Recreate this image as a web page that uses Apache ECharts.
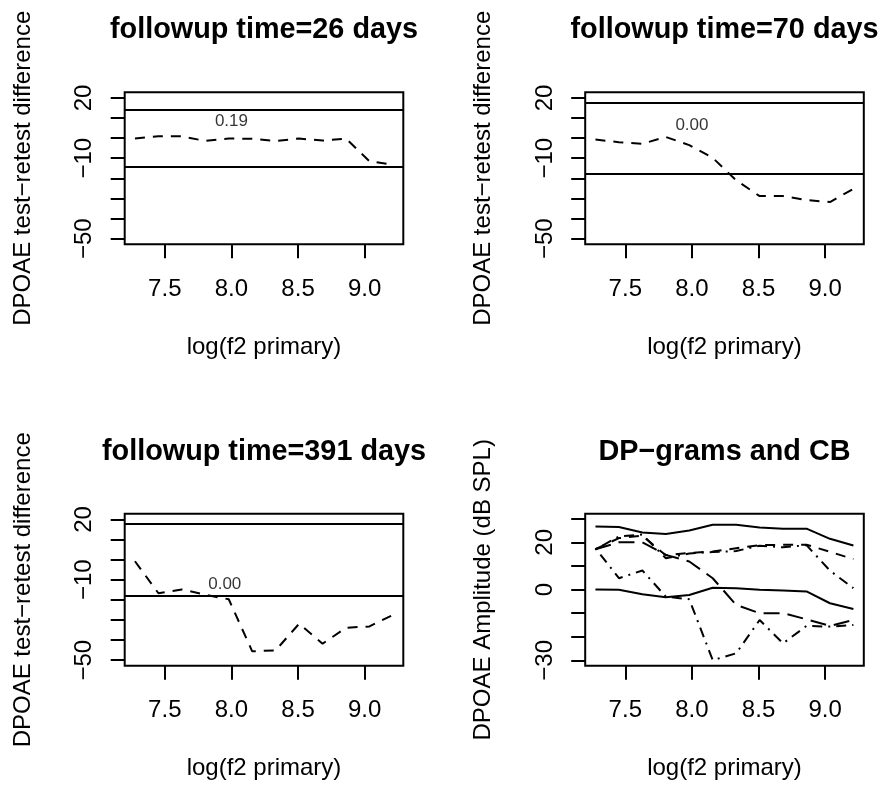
<!DOCTYPE html>
<html><head><meta charset="utf-8">
<script src="https://cdn.jsdelivr.net/npm/echarts@6/dist/echarts.min.js"></script>
<style>html,body{margin:0;padding:0;background:#fff}#c{width:884px;height:785px}</style>
</head><body><div id="c"></div>
<script>
// ---- data ----
const freqLog = [7.276, 7.452, 7.628, 7.804, 7.980, 8.156, 8.332, 8.508, 8.684, 8.860, 9.036, 9.212];
const diff26  = [-0.2, 0.9, 0.9, -1.4, -0.2, -0.3, -1.4, -0.2, -1.2, -0.2, -11.5, -13.2];
const diff70  = [-0.7, -2.0, -2.8, 0.6, -3.5, -9.8, -21.0, -28.8, -28.8, -30.8, -31.8, -25.2];
const diff391 = [-0.8, -16.7, -14.8, -17.5, -19.7, -45.6, -45.1, -31.9, -41.8, -33.9, -33.2, -27.5];
const limits26  = [14.1, -14.2];
const limits70  = [17.7, -17.8];
const limits391 = [17.9, -17.9];
const noteTexts = ['0.19', '0.00', '0.00'];
const noteX = [8.0, 8.0, 7.95];
const noteY = [8.6, 6.5, -12.2];
const cbUpper    = [26.7, 26.5, 24.2, 23.5, 25.0, 27.5, 27.5, 26.3, 25.8, 25.8, 21.5, 18.7];
const cbLower    = [0.0, -0.1, -2.0, -3.3, -2.3, 0.8, 0.6, -0.1, -0.4, -0.8, -5.8, -8.2];
const dpBaseline = [17.1, 21.8, 22.8, 14.5, 15.5, 16.1, 17.5, 18.8, 19.0, 19.0, 16.0, 12.9];
const dp26       = [17.0, 22.5, 23.3, 13.3, 15.3, 15.9, 16.3, 18.6, 17.9, 18.8, 8.0, 0.6];
const dp70       = [17.1, 20.0, 20.0, 14.7, 11.9, 4.8, -6.5, -10.0, -10.0, -12.6, -15.4, -12.9];
const dp391      = [17.5, 4.8, 8.1, -3.0, -4.1, -29.9, -27.0, -12.9, -22.8, -15.4, -15.7, -15.0];
const panelTitles = ['followup time=26 days', 'followup time=70 days', 'followup time=391 days', 'DP\u2212grams and CB'];
const xAxisTitle = 'log(f2 primary)';
const yTitles = ['DPOAE test\u2212retest difference', 'DPOAE test\u2212retest difference', 'DPOAE test\u2212retest difference', 'DPOAE Amplitude (dB SPL)'];
const xTicks = [7.5, 8.0, 8.5, 9.0];
const diffTickShown = [20, -10, -50];
const ampTickShown = [20, 0, -30];

// ---- layout ----
const FONT = 'Liberation Sans, Arial, Helvetica, sans-serif';
const xMin = 7.199, xMax = 9.290;
const panels = [
  {L:124.7, T:92.3, W:278.6, H:152, yMin:-52.8, yMax:22.8, tMin:-50, tMax:20, shown:diffTickShown},
  {L:585.2, T:92.3, W:278.6, H:152, yMin:-52.8, yMax:22.8, tMin:-50, tMax:20, shown:diffTickShown},
  {L:124.7, T:513.8, W:278.6, H:152, yMin:-52.8, yMax:22.8, tMin:-50, tMax:20, shown:diffTickShown},
  {L:585.2, T:513.8, W:278.6, H:152, yMin:-32.3, yMax:32.1, tMin:-30, tMax:30, shown:ampTickShown}
];
const fmtNum = v => String(v).replace('-', '\u2212');
const grid = [], xAxis = [], yAxis = [], series = [], graphic = [];
const tickStyle = {show:true, length:14, inside:false, lineStyle:{color:'#000', width:2}};
panels.forEach((p, i) => {
  const g0 = grid.length;
  grid.push({left:p.L, top:p.T, width:p.W, height:p.H, show:true, borderColor:'#000', borderWidth:2, backgroundColor:'transparent', containLabel:false});
  xAxis.push({gridIndex:g0, type:'value', min:xMin, max:xMax, show:false});
  yAxis.push({gridIndex:g0, type:'value', min:p.yMin, max:p.yMax, show:false});
  const yr = p.yMax - p.yMin;
  const ty = p.T + (p.yMax - p.tMax) / yr * p.H;
  const th = (p.tMax - p.tMin) / yr * p.H;
  grid.push({left:p.L, top:ty, width:p.W, height:th, show:false});
  xAxis.push({gridIndex:g0+1, type:'value', min:0, max:1, show:false});
  yAxis.push({gridIndex:g0+1, type:'value', min:p.tMin, max:p.tMax, interval:10,
    axisLine:{show:false}, splitLine:{show:false}, axisTick:tickStyle,
    axisLabel:{show:true, rotate:90, margin:28, fontSize:24, fontFamily:FONT, color:'#000',
      formatter: v => p.shown.indexOf(v) >= 0 ? fmtNum(v) : ''}});
  const xr = xMax - xMin;
  const tx = p.L + (xTicks[0] - xMin) / xr * p.W;
  const tw = (xTicks[xTicks.length-1] - xTicks[0]) / xr * p.W;
  grid.push({left:tx, top:p.T, width:tw, height:p.H, show:false});
  xAxis.push({gridIndex:g0+2, type:'value', min:xTicks[0], max:xTicks[xTicks.length-1], interval:0.5,
    axisLine:{show:false}, splitLine:{show:false}, axisTick:tickStyle,
    axisLabel:{show:true, margin:33, fontSize:24, fontFamily:FONT, color:'#000', formatter: v => v.toFixed(1)}});
  yAxis.push({gridIndex:g0+2, type:'value', min:0, max:1, show:false});

  const cx = p.L + p.W / 2;
  graphic.push({type:'text', x:cx, y:p.T - 61.8, style:{text:panelTitles[i], font:'bold 28.8px ' + FONT, fill:'#000', textAlign:'center', textVerticalAlign:'middle'}});
  graphic.push({type:'text', x:cx, y:p.T + 255, style:{text:xAxisTitle, font:'24px ' + FONT, fill:'#000', textAlign:'center', textVerticalAlign:'middle'}});
  graphic.push({type:'text', x:p.L - 101.5, y:p.T + p.H / 2, rotation:Math.PI / 2, style:{text:yTitles[i], font:'24px ' + FONT, fill:'#000', textAlign:'center', textVerticalAlign:'middle'}});
});

const pair = arr => freqLog.map((x, k) => [x, arr[k]]);
const dashed = [10, 8];
const diffSets = [[diff26, limits26], [diff70, limits70], [diff391, limits391]];
diffSets.forEach(([d, lim], i) => {
  const gi = i * 3;
  series.push({type:'line', xAxisIndex:gi, yAxisIndex:gi, data:pair(d), symbol:'none', silent:true,
    lineStyle:{color:'#000', width:2, type:dashed},
    markLine:{silent:true, symbol:['none','none'], label:{show:false},
      lineStyle:{color:'#000', width:2, type:'solid'},
      data:[{yAxis:lim[0]}, {yAxis:lim[1]}]}});
  series.push({type:'scatter', xAxisIndex:gi, yAxisIndex:gi, data:[[noteX[i], noteY[i]]], symbolSize:1,
    itemStyle:{color:'rgba(0,0,0,0)'}, silent:true,
    label:{show:true, position:'inside', formatter:noteTexts[i], fontSize:17, fontFamily:FONT, color:'#000', textBorderWidth:0}});
});
const g4 = 9;
const amp = [
  [cbUpper, 'solid'], [cbLower, 'solid'],
  [dpBaseline, [10, 8]], [dp26, [2, 6, 10, 6]], [dp70, [16, 8]], [dp391, [2, 6, 10, 6]]
];
amp.forEach(([d, t]) => {
  series.push({type:'line', xAxisIndex:g4, yAxisIndex:g4, data:pair(d), symbol:'none', silent:true,
    lineStyle:{color:'#000', width:2, type:t}});
});

const chart = echarts.init(document.getElementById('c'), null, {renderer:'canvas'});
chart.setOption({animation:false, backgroundColor:'#fff', grid, xAxis, yAxis, series, graphic});
</script></body></html>
